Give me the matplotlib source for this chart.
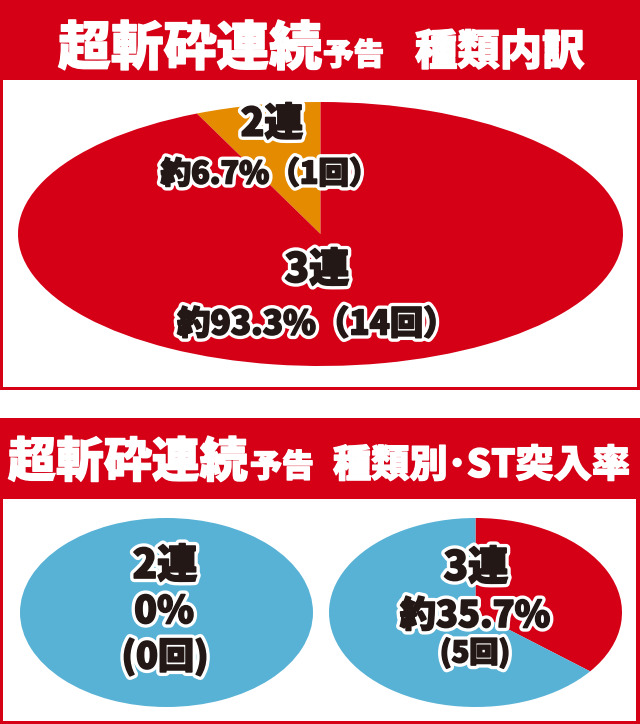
import matplotlib
matplotlib.use("Agg")
import matplotlib.pyplot as plt
import matplotlib.patheffects as pe
from matplotlib.patches import Rectangle

plt.rcParams['font.family'] = ['Noto Sans CJK JP', 'DejaVu Sans']

# ---------------- data ----------------
breakdown_labels = ['2連', '3連']
breakdown_pct = [6.7, 93.3]
breakdown_count = [1, 14]

st_labels = ['2連', '3連']
st_pct = [0.0, 35.7]
st_count = [0, 5]

title_top = ['超斬砕連続', '予告', '種類内訳']
title_bottom = ['超斬砕連続', '予告', '種類別･ST突入率']

RED = '#d50016'
ORANGE = '#e48b00'
BLUE = '#58b2d5'
INK = '#231815'

W, H = 640, 724
fig = plt.figure(figsize=(W / 100, H / 100), dpi=100)
fig.patch.set_facecolor('white')

bg = fig.add_axes([0, 0, 1, 1], zorder=0)
bg.set_xlim(0, W)
bg.set_ylim(H, 0)
bg.axis('off')


def panel(y0, y1, head_h, right_pad):
    bg.add_patch(Rectangle((0, y0), W, y1 - y0, facecolor=RED, edgecolor='none'))
    bg.add_patch(Rectangle((3, y0 + head_h), W - 3 - right_pad, (y1 - 3.5) - (y0 + head_h),
                           facecolor='white', edgecolor='none'))


panel(0, 390, 80, 3)
panel(418, 724, 81, 4)

head_fx = [pe.withStroke(linewidth=1.0, foreground='white')]


def header(parts, xs, base, sizes):
    for txt, x, s in zip(parts, xs, sizes):
        bg.text(x, base, txt, color='white', fontsize=s, fontweight='heavy',
                ha='left', va='baseline', path_effects=head_fx)


header(title_top, [58, 323, 415], 65, [38, 22, 30.5])
header(title_bottom, [8, 250, 333], 477, [34.5, 23, 27.5])


def pie_axes(x0, y0, x1, y1):
    ax = fig.add_axes([x0 / W, 1 - y1 / H, (x1 - x0) / W, (y1 - y0) / H], zorder=1)
    return ax


def finish(ax):
    ax.set_aspect('auto')
    ax.set_xlim(-1, 1)
    ax.set_ylim(-1, 1)
    ax.axis('off')


# top pie: breakdown
ax1 = pie_axes(18, 102, 623, 366)
ax1.pie(breakdown_pct, colors=[ORANGE, RED], startangle=90, counterclock=True,
        radius=1, wedgeprops=dict(linewidth=0))
finish(ax1)

# bottom pies: ST entry rate per type
ax2 = pie_axes(20, 518, 313, 707)
ax2.pie([st_pct[0], 100 - st_pct[0]], colors=[RED, BLUE], startangle=90,
        counterclock=False, radius=1, wedgeprops=dict(linewidth=0))
finish(ax2)

ax3 = pie_axes(329, 518, 622, 707)
ax3.pie([st_pct[1], 100 - st_pct[1]], colors=[RED, BLUE], startangle=90,
        counterclock=False, radius=1, wedgeprops=dict(linewidth=0))
finish(ax3)

# overlay for labels
ov = fig.add_axes([0, 0, 1, 1], zorder=2)
ov.set_xlim(0, W)
ov.set_ylim(H, 0)
ov.axis('off')
ov.patch.set_alpha(0)

stroke = [pe.withStroke(linewidth=6, foreground='white'),
          pe.withStroke(linewidth=1.2, foreground=INK)]


def label(x, y, txt, size):
    ov.text(x, y, txt, color=INK, fontsize=size, fontweight='heavy',
            ha='center', va='center', path_effects=stroke)


def fmt_pct(p):
    return f'{p:g}%' if p == 0 else f'約{p:.1f}%'


# top pie labels
label(272, 124, breakdown_labels[0], 28)
label(270, 174, f'{fmt_pct(breakdown_pct[0])}（{breakdown_count[0]}回）', 22)
label(317, 270, breakdown_labels[1], 29)
label(317, 324, f'{fmt_pct(breakdown_pct[1])}（{breakdown_count[1]}回）', 24)

# bottom left
label(165, 566, st_labels[0], 29)
label(164, 612, fmt_pct(st_pct[0]), 27)
label(165, 657, f'({st_count[0]}回)', 26)

# bottom right
label(476, 568, st_labels[1], 29)
label(475, 616, fmt_pct(st_pct[1]), 26)
label(475, 653, f'({st_count[1]}回)', 21)

fig.savefig('out.png', dpi=100, facecolor='white')
